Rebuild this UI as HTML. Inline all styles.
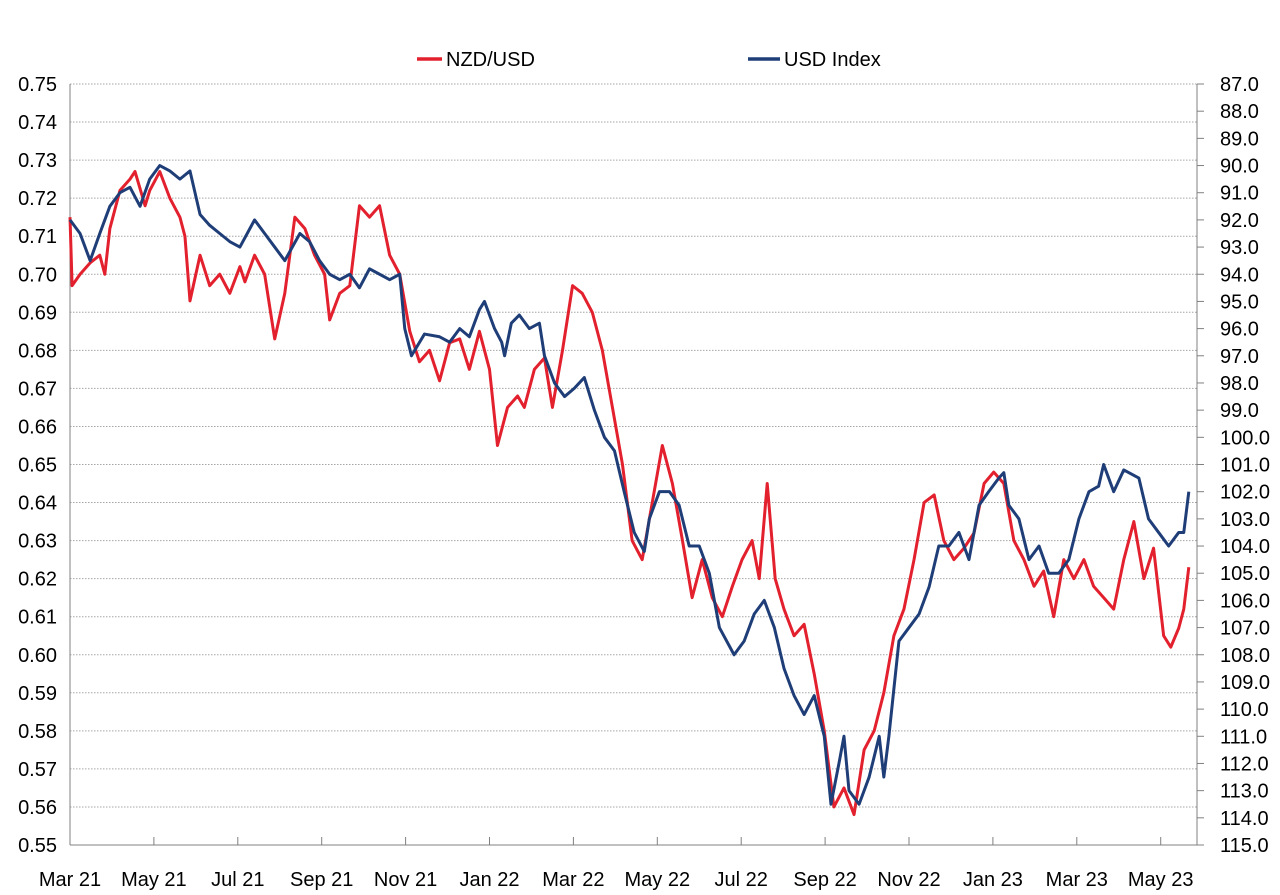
<!DOCTYPE html>
<html><head><meta charset="utf-8"><style>
body{margin:0;background:#fff;}
svg{display:block;font-family:"Liberation Sans",Calibri,sans-serif;}
</style></head><body>
<svg id="chart" width="1280" height="895">
<g id="grid"></g>
<g id="axes"></g>
<g id="series"></g>
<g>
<line x1="417" y1="59" x2="442" y2="59" stroke="#e3202d" stroke-width="3.5"/>
<text x="446" y="66" font-size="20">NZD/USD</text>
<line x1="748" y1="59" x2="780" y2="59" stroke="#1f3e78" stroke-width="3.5"/>
<text x="784" y="66" font-size="20">USD Index</text>
</g>
</svg>
<script>
const monthLabels=["Mar 21","May 21","Jul 21","Sep 21","Nov 21","Jan 22","Mar 22","May 22","Jul 22","Sep 22","Nov 22","Jan 23","Mar 23","May 23"];
const leftTicks=[0.75,0.74,0.73,0.72,0.71,0.70,0.69,0.68,0.67,0.66,0.65,0.64,0.63,0.62,0.61,0.60,0.59,0.58,0.57,0.56,0.55];
const rightTicks=[87,88,89,90,91,92,93,94,95,96,97,98,99,100,101,102,103,104,105,106,107,108,109,110,111,112,113,114,115];
// time in months since Mar 2021
const nzdT=[0,0.05,0.24,0.48,0.71,0.83,0.95,1.19,1.43,1.55,1.79,1.9,2.14,2.38,2.62,2.74,2.86,3.1,3.33,3.57,3.81,4.05,4.17,4.4,4.64,4.88,5.12,5.36,5.6,5.83,6.07,6.19,6.43,6.67,6.9,7.14,7.38,7.62,7.86,8.1,8.33,8.57,8.81,9.05,9.29,9.52,9.76,10,10.19,10.43,10.67,10.83,11.07,11.31,11.5,11.74,11.98,12.21,12.45,12.69,12.93,13.17,13.4,13.64,13.88,14.12,14.36,14.6,14.83,15.07,15.31,15.55,15.79,16.02,16.26,16.43,16.62,16.81,17.02,17.26,17.5,17.74,17.98,18.21,18.45,18.69,18.93,19.17,19.4,19.64,19.88,20.12,20.36,20.6,20.83,21.07,21.31,21.55,21.79,22.02,22.26,22.5,22.74,22.98,23.21,23.45,23.69,23.93,24.17,24.4,24.64,24.88,25.12,25.36,25.6,25.83,26.07,26.24,26.43,26.55,26.67];
const nzdVals=[0.715,0.697,0.700,0.703,0.705,0.700,0.712,0.722,0.725,0.727,0.718,0.722,0.727,0.720,0.715,0.710,0.693,0.705,0.697,0.700,0.695,0.702,0.698,0.705,0.700,0.683,0.695,0.715,0.712,0.705,0.700,0.688,0.695,0.697,0.718,0.715,0.718,0.705,0.700,0.685,0.677,0.680,0.672,0.682,0.683,0.675,0.685,0.675,0.655,0.665,0.668,0.665,0.675,0.678,0.665,0.680,0.697,0.695,0.690,0.680,0.665,0.650,0.630,0.625,0.640,0.655,0.645,0.630,0.615,0.625,0.615,0.610,0.618,0.625,0.630,0.620,0.645,0.620,0.612,0.605,0.608,0.595,0.580,0.560,0.565,0.558,0.575,0.580,0.590,0.605,0.612,0.625,0.640,0.642,0.630,0.625,0.628,0.632,0.645,0.648,0.645,0.630,0.625,0.618,0.622,0.610,0.625,0.620,0.625,0.618,0.615,0.612,0.625,0.635,0.620,0.628,0.605,0.602,0.607,0.612,0.623];
const usdT=[0,0.24,0.48,0.71,0.95,1.19,1.43,1.67,1.9,2.14,2.38,2.62,2.86,3.1,3.33,3.57,3.81,4.05,4.4,4.64,4.88,5.12,5.48,5.71,5.95,6.19,6.43,6.67,6.9,7.14,7.38,7.62,7.86,7.98,8.14,8.45,8.81,9.05,9.29,9.52,9.76,9.88,10,10.12,10.29,10.36,10.52,10.71,10.95,11.19,11.31,11.55,11.79,12.02,12.26,12.5,12.74,12.98,13.21,13.45,13.69,13.81,14.05,14.29,14.52,14.76,15,15.24,15.48,15.83,16.07,16.31,16.55,16.79,17.02,17.26,17.5,17.74,17.98,18.14,18.33,18.45,18.57,18.81,19.05,19.29,19.4,19.52,19.76,20,20.24,20.48,20.71,20.95,21.19,21.43,21.67,21.9,22.14,22.26,22.38,22.62,22.86,23.1,23.33,23.57,23.81,24.05,24.29,24.52,24.64,24.88,25.12,25.48,25.71,25.95,26.19,26.43,26.55,26.67];
const usdVals=[92.0,92.5,93.5,92.5,91.5,91.0,90.8,91.5,90.5,90.0,90.2,90.5,90.2,91.8,92.2,92.5,92.8,93.0,92.0,92.5,93.0,93.5,92.5,92.8,93.5,94.0,94.2,94.0,94.5,93.8,94.0,94.2,94.0,96.0,97.0,96.2,96.3,96.5,96.0,96.3,95.3,95.0,95.5,96.0,96.5,97.0,95.8,95.5,96.0,95.8,97.0,98.0,98.5,98.2,97.8,99.0,100.0,100.5,102.0,103.5,104.2,103.0,102.0,102.0,102.5,104.0,104.0,105.0,107.0,108.0,107.5,106.5,106.0,107.0,108.5,109.5,110.2,109.5,111.0,113.5,112.0,111.0,113.0,113.5,112.5,111.0,112.5,111.0,107.5,107.0,106.5,105.5,104.0,104.0,103.5,104.5,102.5,102.0,101.5,101.3,102.5,103.0,104.5,104.0,105.0,105.0,104.5,103.0,102.0,101.8,101.0,102.0,101.2,101.5,103.0,103.5,104.0,103.5,103.5,102.0];

const NS="http://www.w3.org/2000/svg";
const X0=70,X1=1197,Y0=84,Y1=845,PXM=41.95;
const xS=t=>X0+t*PXM;
const yL=v=>Y1-(v-0.55)/(0.20)*(Y1-Y0);
const yR=v=>Y0+(v-87)/28*(Y1-Y0);
function mk(tag,attrs,parent){const e=document.createElementNS(NS,tag);for(const k in attrs)e.setAttribute(k,attrs[k]);parent.appendChild(e);return e;}
const grid=document.getElementById('grid'),axes=document.getElementById('axes'),series=document.getElementById('series');
leftTicks.forEach(v=>{
  const y=yL(v);
  const l=mk('line',{x1:X0,x2:X1,y1:y,y2:y,stroke:'#a6a6a6','stroke-width':1,'stroke-dasharray':'1.5,1.5'},grid);
  
  
  const t=mk('text',{x:57,y:y+7,'font-size':20,'text-anchor':'end'},axes);
  t.textContent=v.toFixed(2);
  
  
});
rightTicks.forEach(v=>{
  const y=yR(v);
  const l=mk('line',{x1:X1,x2:X1+7,y1:y,y2:y,stroke:'#808080','stroke-width':1},axes);
  
  
  const t=mk('text',{x:1220,y:y+7,'font-size':20},axes);
  t.textContent=v.toFixed(1);
  
  
});
monthLabels.forEach((m,i)=>{
  const x=xS(i*2);
  const l=mk('line',{x1:x,x2:x,y1:Y1,y2:Y1-8,stroke:'#808080','stroke-width':1},axes);
  
  
  const t=mk('text',{x:x,y:886,'font-size':20,'text-anchor':'middle'},axes);
  t.textContent=m;
  
  
});
[[X0,Y0,X0,Y1],[X0,Y1,X1,Y1],[X1,Y0,X1,Y1]].forEach(a=>{
  const l=mk('line',{x1:a[0],y1:a[1],x2:a[2],y2:a[3],stroke:'#808080','stroke-width':1},axes);
  
  
});
const pN=mk('polyline',{fill:'none',stroke:'#e3202d','stroke-width':3,'stroke-linejoin':'round',points:nzdT.map((t,i)=>xS(t)+','+yL(nzdVals[i])).join(' ')},series);


const pU=mk('polyline',{fill:'none',stroke:'#1f3e78','stroke-width':3,'stroke-linejoin':'round',points:usdT.map((t,i)=>xS(t)+','+yR(usdVals[i])).join(' ')},series);


</script>
</body></html>
